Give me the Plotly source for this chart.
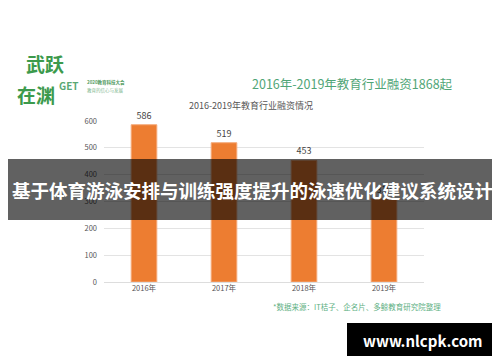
import plotly.graph_objects as go

years = ["2016年", "2017年", "2018年", "2019年"]
deals = [586, 519, 453, 310]
y_ticks = [0, 100, 200, 300, 400, 500, 600]

W, H = 500, 362
L, R, T, B = 96, 84, 113, 88
PW, PH = W - L - R, H - T - B

def px(x):
    return (x - L) / PW

def py(y):
    return (H - B - y) / PH

FONT = "Noto Sans CJK SC, Noto Sans, sans-serif"

fig = go.Figure()
fig.add_trace(go.Bar(
    x=years, y=deals, text=[str(v) for v in deals], textposition="outside",
    textfont=dict(size=9, color="#444444", family=FONT),
    marker=dict(color="#ED7D31", line=dict(color="#F4A978", width=1)),
    width=0.32, cliponaxis=False, hoverinfo="skip",
))

fig.update_layout(
    width=W, height=H, margin=dict(l=L, r=R, t=T, b=B),
    paper_bgcolor="white", plot_bgcolor="white", showlegend=False,
    font=dict(family=FONT),
    xaxis=dict(showgrid=False, showline=False, ticks="", tickfont=dict(size=7.5, color="#555555"),
               fixedrange=True),
    yaxis=dict(range=[0, 600], tickvals=y_ticks, showgrid=True, gridcolor="#e3e3e3", gridwidth=1,
               zeroline=True, zerolinecolor="#dddddd", zerolinewidth=1,
               tickfont=dict(size=7.5, color="#555555"), ticklabelstandoff=6),
)

ann = []
def text(x, y, s, size, color, bold=False, anchor="left", yanchor="middle"):
    ann.append(dict(xref="paper", yref="paper", x=px(x), y=py(y), text=("<b>%s</b>" % s) if bold else s,
                    showarrow=False, xanchor=anchor, yanchor=yanchor,
                    font=dict(size=size, color=color, family=FONT)))

# header texts
text(242, 75, "2016年-2019年教育行业融资1868起", 12.5, "#4fa576")
text(179, 98, "2016-2019年教育行业融资情况", 9, "#555555")
# logo
text(16, 55, "武跃", 19, "#3c9a4c", bold=True)
text(7, 87, "在渊", 19, "#3c9a4c", bold=True)
text(49, 78, "GET", 10, "#5aa874", bold=True)
text(77, 74, "2020教育科技大会", 4.5, "#4f9a60", bold=True)
text(77, 82, "教育的信心与发展", 4.5, "#7fb890")
# source
text(263, 298, "*数据来源：IT桔子、企名片、多鲸教育研究院整理", 7.5, "#5eb083")
# overlay title
text(244, 182, "基于体育游泳安排与训练强度提升的泳速优化建议系统设计", 18.5, "#ffffff", bold=True, anchor="center")
# watermark
text(415, 332, "www.nlcpk.com", 15, "#ffffff", bold=True, anchor="center")

fig.update_layout(annotations=ann, shapes=[
    dict(type="rect", xref="paper", yref="paper", x0=px(0), x1=px(500), y0=py(212), y1=py(151),
         fillcolor="rgba(0,0,0,0.62)", line=dict(width=0), layer="above"),
    dict(type="rect", xref="paper", yref="paper", x0=px(339), x1=px(491), y0=py(348), y1=py(315),
         fillcolor="#000000", line=dict(width=0), layer="above"),
])

fig.write_html("out.html")
